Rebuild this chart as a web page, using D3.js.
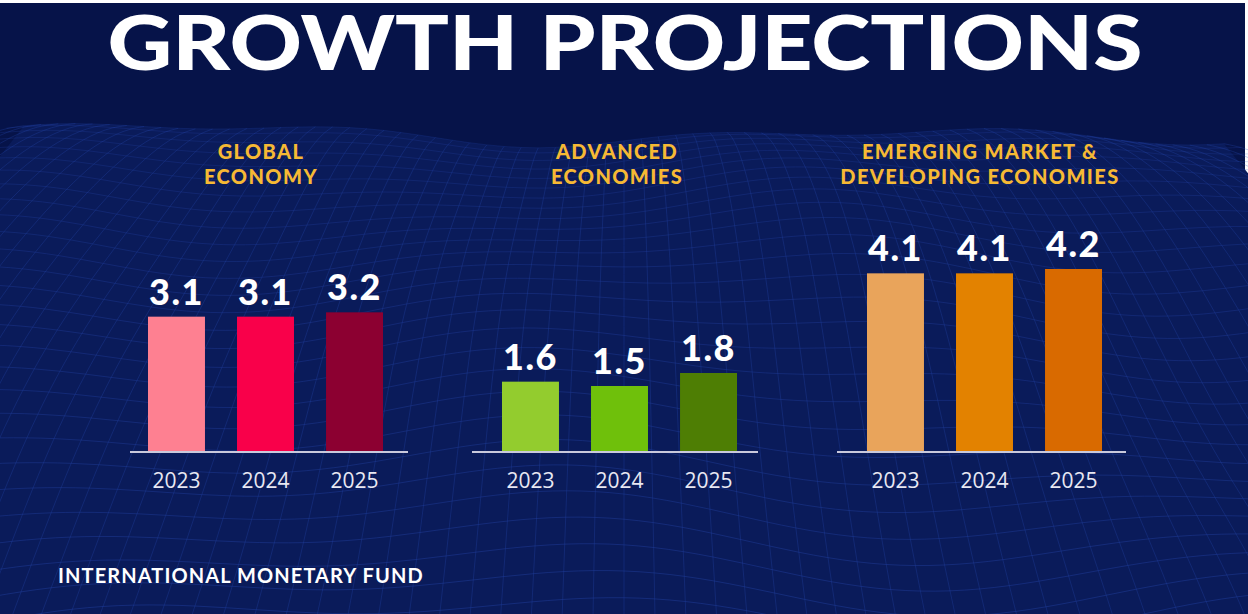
<!DOCTYPE html>
<html>
<head>
<meta charset="utf-8">
<script src="https://cdn.jsdelivr.net/npm/d3@7"></script>
<style>
  html, body { margin: 0; padding: 0; background: #ffffff; }
  svg { display: block; }
</style>
</head>
<body>
<svg id="chart" width="1248" height="614"></svg>
<script>
// ---------- DATA ----------
const chartTitle = "GROWTH PROJECTIONS";
const sourceLabel = "INTERNATIONAL MONETARY FUND";
const years = ["2023", "2024", "2025"];
const panelTitles = [
  ["GLOBAL", "ECONOMY"],
  ["ADVANCED", "ECONOMIES"],
  ["EMERGING MARKET &", "DEVELOPING ECONOMIES"]
];
const globalValues = [3.1, 3.1, 3.2];
const advancedValues = [1.6, 1.5, 1.8];
const emergingValues = [4.1, 4.1, 4.2];
const globalColors = ["#fe8091", "#f9004a", "#8c0031"];
const advancedColors = ["#93cc2e", "#6fc00b", "#4e7e04"];
const emergingColors = ["#e9a45b", "#e38200", "#d96a00"];

// ---------- LAYOUT ----------
const W = 1248, H = 614;
const svg = d3.select("#chart");

svg.append("rect").attr("width", W).attr("height", H).attr("fill", "#ffffff");
svg.append("rect").attr("x", 0).attr("y", 3).attr("width", W - 3).attr("height", H - 3).attr("fill", "#061349");

// decorative wireframe terrain
const bg = svg.append("g");
const nu = 70, nv = 30;
function P(u, v) {
  const spread = 0.8 + 0.7 * v;
  const x = 624 + (u - 0.5) * 1500 * spread;
  const yb = 134 + Math.pow(v, 1.5) * 560;
  const h = (12 * Math.sin(u * 11 + v * 4) + 8 * Math.sin(u * 23 - v * 6 + 1.3) + 6 * Math.cos(u * 5 + v * 9)) * (0.6 + 1.2 * v);
  return [x, yb - h];
}
const topRow = d3.range(nu + 1).map(i => P(i / nu, 0));
const areaPts = topRow.concat([[W + 400, H + 50], [-400, H + 50]]);
bg.append("path")
  .attr("d", d3.line().curve(d3.curveLinear)(areaPts) + "Z")
  .attr("fill", "#0a1b5a");
const line = d3.line().curve(d3.curveBasis);
const meshG = bg.append("g").attr("fill", "none").attr("stroke", "#2a4cb8").attr("stroke-width", 0.9);
d3.range(nv + 1).forEach(j => {
  const v = j / nv;
  meshG.append("path").attr("d", line(d3.range(nu + 1).map(i => P(i / nu, v))))
    .attr("stroke-opacity", 0.22 + 0.18 * v);
});
d3.range(nu + 1).forEach(i => {
  const u = i / nu;
  meshG.append("path").attr("d", line(d3.range(nv + 1).map(j => P(u, j / nv))))
    .attr("stroke-opacity", 0.3);
});

// title
svg.append("text")
  .attr("x", 625).attr("y", 70)
  .attr("text-anchor", "middle")
  .attr("font-family", "Lato, 'Open Sans', sans-serif")
  .attr("font-weight", 900)
  .attr("font-size", 77)
  .attr("fill", "#ffffff")
  .attr("textLength", 1035)
  .attr("lengthAdjust", "spacingAndGlyphs")
  .text(chartTitle);

// panels
const panels = [
  { title: panelTitles[0], values: globalValues, colors: globalColors, range: [148, 383], line: [130, 408], tx: 261 },
  { title: panelTitles[1], values: advancedValues, colors: advancedColors, range: [502, 737], line: [472, 758], tx: 617 },
  { title: panelTitles[2], values: emergingValues, colors: emergingColors, range: [867, 1102], line: [837, 1126], tx: 980 }
];

const y = d3.scaleLinear().domain([0, 4.2]).range([451, 269]);

panels.forEach(p => {
  const g = svg.append("g");
  const x = d3.scaleBand().domain(years).range(p.range).paddingInner(0.36).paddingOuter(0);

  // panel title
  p.title.forEach((t, k) => {
    g.append("text")
      .attr("x", p.tx).attr("y", 159 + k * 25)
      .attr("text-anchor", "middle")
      .attr("font-family", "Lato, 'Open Sans', sans-serif")
      .attr("font-weight", 900)
      .attr("font-size", 20)
      .attr("letter-spacing", 1.4)
      .attr("fill", "#f6b934")
      .text(t);
  });

  // bars
  g.selectAll("rect.bar").data(p.values).join("rect")
    .attr("class", "bar")
    .attr("x", (d, i) => x(years[i]))
    .attr("y", d => y(d))
    .attr("width", x.bandwidth())
    .attr("height", d => y(0) - y(d))
    .attr("fill", (d, i) => p.colors[i]);

  // value labels
  g.selectAll("text.val").data(p.values).join("text")
    .attr("class", "val")
    .attr("x", (d, i) => x(years[i]) + x.bandwidth() / 2)
    .attr("y", d => y(d) - 12)
    .attr("text-anchor", "middle")
    .attr("font-family", "Lato, 'Open Sans', sans-serif")
    .attr("font-weight", 900)
    .attr("font-size", 36)
    .attr("letter-spacing", 1.5)
    .attr("fill", "#ffffff")
    .text(d => d3.format(".1f")(d));

  // baseline
  g.append("line")
    .attr("x1", p.line[0]).attr("x2", p.line[1])
    .attr("y1", y(0) + 1).attr("y2", y(0) + 1)
    .attr("stroke", "#c9c9dc").attr("stroke-width", 2);

  // year axis labels
  const axis = d3.axisBottom(x).tickSize(0).tickPadding(0);
  const ag = g.append("g").attr("transform", `translate(0,${488})`).call(axis);
  ag.select(".domain").remove();
  ag.selectAll("text")
    .attr("dy", 0)
    .attr("font-family", "'Open Sans', 'Noto Sans', sans-serif")
    .attr("font-size", 21)
    .attr("fill", "#e8e8f2");
});

// footer
svg.append("text")
  .attr("x", 58).attr("y", 583)
  .attr("font-family", "Lato, 'Open Sans', sans-serif")
  .attr("font-weight", 700)
  .attr("font-size", 20)
  .attr("letter-spacing", 1.1)
  .attr("fill", "#ffffff")
  .text(sourceLabel);
</script>
</body>
</html>
